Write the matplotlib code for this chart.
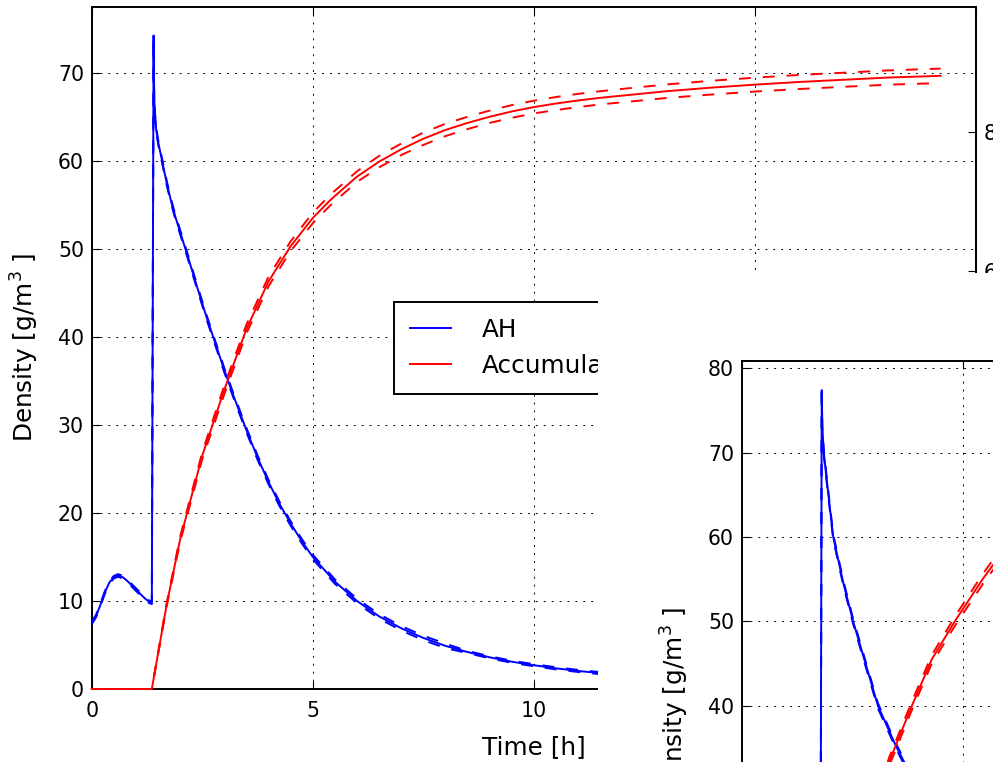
import matplotlib
matplotlib.use("Agg")
import matplotlib.pyplot as plt
import numpy as np
from matplotlib.patches import Rectangle

# main window: AH (blue) and accumulated (red), time in hours
t_ah = [0, 0.1, 0.2, 0.3, 0.4, 0.5, 0.6, 0.7, 0.8, 0.9, 1.0, 1.1, 1.2, 1.3, 1.36,
        1.40, 1.405, 1.415, 1.43, 1.46, 1.5, 1.55, 1.6, 1.7, 1.8, 1.9, 2.0, 2.2,
        2.4, 2.6, 2.8, 3.0, 3.2, 3.5, 3.75, 4.0, 4.25, 4.5, 4.75, 5.0, 5.5, 6.0,
        6.5, 7.0, 7.5, 8.0, 8.5, 9.0, 9.5, 10, 10.5, 11, 11.5, 12, 13, 14, 15,
        16, 17, 18, 19.2]
ah = [7.5, 8.3, 9.6, 11.0, 12.1, 12.7, 12.9, 12.7, 12.3, 11.8, 11.3, 10.8, 10.3,
      9.9, 9.8, 74.2, 70.0, 67.0, 65.3, 63.5, 62.2, 61.0, 59.8, 57.4, 55.3, 53.5,
      51.9, 48.7, 45.4, 42.2, 39.2, 36.2, 33.4, 29.4, 26.3, 23.5, 21.0, 18.8,
      16.8, 15.0, 12.2, 10.0, 8.25, 6.9, 5.8, 4.9, 4.2, 3.6, 3.1, 2.7, 2.35,
      2.05, 1.8, 1.6, 1.3, 1.05, 0.9, 0.8, 0.7, 0.6, 0.5]
ah_sd = [0.15] * 15 + [0.25] * 31 + [0.12] * 15

t_acc = [0, 1.36, 1.5, 1.7, 2.0, 2.5, 3.0, 3.5, 4.0, 4.5, 5.0, 5.37, 5.5, 6.0,
         6.5, 7.0, 7.5, 8.0, 8.5, 9.0, 9.5, 10, 10.5, 11, 11.5, 12, 13, 14, 15,
         16, 17, 18, 19.2]
acc = [0, 0, 4.0, 9.7, 17.0, 26.5, 34.0, 40.9, 46.3, 50.3, 53.5, 55.4, 56.0,
       58.2, 59.9, 61.3, 62.5, 63.5, 64.3, 65.0, 65.6, 66.1, 66.5, 66.85, 67.15,
       67.4, 67.9, 68.3, 68.65, 68.95, 69.2, 69.45, 69.65]
acc_sd = [0, 0, 0.1, 0.2, 0.3, 0.4, 0.5, 0.5, 0.55, 0.55, 0.6, 0.6, 0.6, 0.6,
          0.65, 0.65, 0.7, 0.7, 0.7, 0.7, 0.72, 0.72, 0.74, 0.75, 0.75, 0.76,
          0.77, 0.78, 0.79, 0.8, 0.8, 0.81, 0.82]

# second window (partly hidden behind)
t_ah2 = [0, 0.3, 0.6, 0.9, 1.2, 1.5, 1.78, 1.81, 1.825, 1.86, 1.95, 2.07, 2.3,
         2.52, 2.8, 3.08, 3.48, 4.0, 5, 6, 8, 10, 12, 15, 19.2]
ah2 = [8, 11.5, 13.2, 12.5, 11.3, 10.5, 10.0, 77.4, 72.5, 69.8, 65.5, 60.0, 54.5,
       50.0, 45.0, 40.0, 35.3, 30.0, 21.0, 15.0, 8.0, 4.5, 2.8, 1.5, 0.8]
t_acc2 = [0, 1.8, 2.2, 2.6, 3.0, 3.33, 3.85, 4.3, 4.82, 5.45, 5.7, 6.5, 8, 10,
          12, 15, 19.2]
acc2 = [0, 0, 9, 18, 27, 33.3, 40, 45.5, 50, 55, 56.8, 60, 63.5, 66, 67.3, 68.5,
        69.5]
acc2_sd = [0, 0, 0.3, 0.4, 0.5, 0.5, 0.5, 0.5, 0.55, 0.6, 0.6, 0.6, 0.7, 0.7,
           0.75, 0.8, 0.8]

plt.rcParams['font.family'] = 'DejaVu Sans'
plt.rcParams['lines.scale_dashes'] = False
plt.rcParams['axes.linewidth'] = 1.4
plt.rcParams['xtick.direction'] = 'in'
plt.rcParams['ytick.direction'] = 'in'
plt.rcParams['xtick.major.size'] = 5.8
plt.rcParams['ytick.major.size'] = 5.8
plt.rcParams['xtick.major.pad'] = 8.6
plt.rcParams['ytick.major.pad'] = 5.5
plt.rcParams['xtick.top'] = True
plt.rcParams['xtick.labelsize'] = 14.8
plt.rcParams['ytick.labelsize'] = 14.8

W, H = 993, 762
fig = plt.figure(figsize=(W / 100, H / 100), dpi=100)

dash = (0, (8.6, 8.6))
grid_ls = (0, (1.4, 4.3))


def draw_panel(ax, t1, y1, sd1, t2, y2, sd2, ytop):
    y1 = np.array(y1)
    y2 = np.array(y2)
    ax.plot(t1, y1, color='b', lw=1.4, label='AH', zorder=3)
    ax.plot(t1, y1 + np.array(sd1), color='b', lw=1.4, ls=dash, zorder=3)
    ax.plot(t1, y1 - np.array(sd1), color='b', lw=1.4, ls=dash, zorder=3)
    ax.plot(t2, y2, color='r', lw=1.4, label='Accumulated', zorder=3, clip_on=False)
    ax.plot(t2, y2 + np.array(sd2), color='r', lw=1.4, ls=dash, zorder=3, clip_on=False)
    ax.plot(t2, y2 - np.array(sd2), color='r', lw=1.4, ls=dash, zorder=3, clip_on=False)
    ax.set_xlim(0, 20)
    ax.set_xticks([0, 5, 10, 15, 20])
    ax.set_yticks(range(0, 90, 10))
    ax.set_ylim(0, ytop)
    ax.grid(True, color='k', lw=0.7, ls=grid_ls)
    ax.set_xlabel('Time [h]', fontsize=17.8, labelpad=10)
    ax.set_ylabel(r'Density [g/m$^3$ ]', fontsize=17.8, labelpad=12)


# main axes
ax = fig.add_axes([91.7 / W, 1 - 689 / H, (976 - 91.7) / W, (689 - 6.7) / H])
ax.set_zorder(0)
draw_panel(ax, t_ah, ah, ah_sd, t_acc, acc, acc_sd, 77.5)
leg = ax.legend(loc='center left', bbox_to_anchor=(0.342, 0.5), fontsize=17.8,
                borderaxespad=0, fancybox=False, framealpha=1, edgecolor='k',
                handlelength=1.65, handletextpad=1.25, borderpad=0.65,
                labelspacing=0.5)
leg.get_frame().set_linewidth(1.4)

ax2 = ax.twinx()
ax2.set_zorder(0.5)
for side in ['left', 'top', 'bottom']:
    ax2.spines[side].set_visible(False)
ax2.set_ylim(0.57, 98.04)
ax2.set_yticks([0, 20, 40, 60, 80])
ax2.tick_params(axis='y', direction='in', pad=5.5)

# white backdrop of the second window
fig.add_artist(Rectangle((598 / W, 0), 1 - 598 / W, (H - 273) / H,
                         transform=fig.transFigure, facecolor='white',
                         edgecolor='none', zorder=1))

# second window
left2, top2 = 741.7, 360.7
axb = fig.add_axes([left2 / W, 1 - (top2 + 682.3) / H, (976 - 91.7) / W, 682.3 / H])
axb.set_zorder(2)
draw_panel(axb, t_ah2, ah2, [0.3] * len(ah2), t_acc2, acc2, acc2_sd, 80.9)

fig.savefig('out.png', dpi=100)
